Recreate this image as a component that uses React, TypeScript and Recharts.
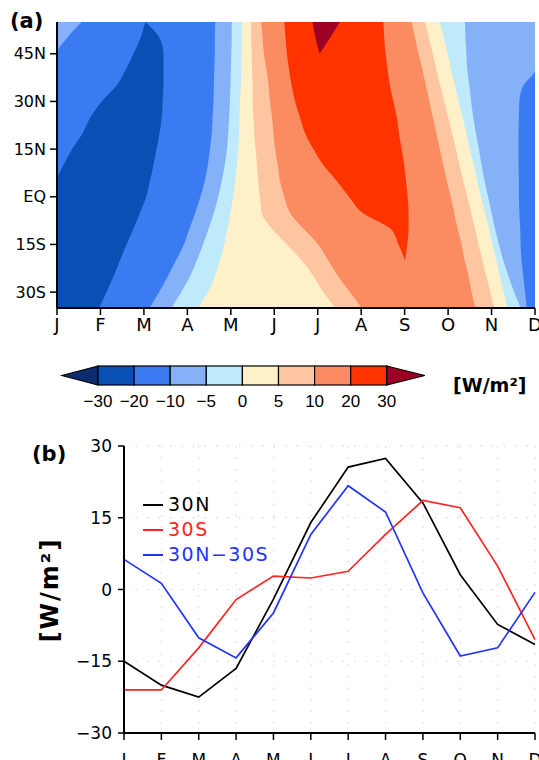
import React from "react";
import { ComposedChart, Area, XAxis, YAxis, CartesianGrid, LineChart, Line } from "recharts";

const FONT = "DejaVu Sans";
const BAR_FONT = "Liberation Sans";

const MONTHS = ["J", "F", "M", "A", "M", "J", "J", "A", "S", "O", "N", "D"];
const MONTH_TICKS = [0, 1, 2, 3, 4, 5, 6, 7, 8, 9, 10, 11];

// ---------- (a) contour field ----------
// latitude rows, south to north
const LATS = [-35, -30, -25, -20, -15, -10, -5, 0, 5, 10, 15, 20, 25, 30, 35, 40, 45, 50, 55];
const LAT_TICKS = [-30, -15, 0, 15, 30, 45];

// contour edges, as month position (0 = J, 11 = D) read at each latitude, left to right
const EDGE_01 = [0, 0, 0, 0, 0, 0, 0, 0, 0, 0, 0, 0, 0, 0, 0, 0, 0, 0.23, 0.57];
const EDGE_02 = [0, 0, 0, 0, 0, 0, 0, 0, 0, 0.15, 0.35, 0.59, 0.77, 1.03, 1.37, 1.58, 1.76, 1.92, 2.03];
const EDGE_03 = [0.97, 1.14, 1.3, 1.45, 1.6, 1.76, 1.91, 2.05, 2.14, 2.22, 2.29, 2.36, 2.41, 2.43, 2.45, 2.45, 2.45, 2.36, 2.03];
const EDGE_04 = [2.13, 2.35, 2.55, 2.74, 2.92, 3.05, 3.18, 3.3, 3.4, 3.47, 3.52, 3.56, 3.58, 3.6, 3.61, 3.62, 3.63, 3.63, 3.64];
const EDGE_05 = [2.63, 2.86, 3.06, 3.22, 3.36, 3.49, 3.61, 3.71, 3.79, 3.86, 3.91, 3.94, 3.96, 3.98, 3.99, 4.0, 4.01, 4.02, 4.02];
const EDGE_06 = [3.24, 3.47, 3.63, 3.75, 3.85, 3.92, 3.99, 4.05, 4.1, 4.14, 4.17, 4.19, 4.2, 4.21, 4.23, 4.24, 4.24, 4.25, 4.25];
const EDGE_07 = [6.4, 6.13, 5.9, 5.63, 5.29, 4.94, 4.71, 4.67, 4.63, 4.6, 4.57, 4.54, 4.52, 4.5, 4.5, 4.49, 4.48, 4.47, 4.47];
const EDGE_08 = [7.01, 6.74, 6.47, 6.24, 6.01, 5.67, 5.36, 5.23, 5.13, 5.08, 5.02, 4.98, 4.95, 4.9, 4.87, 4.82, 4.76, 4.73, 4.7];
const EDGE_13 = [9.63, 9.54, 9.47, 9.38, 9.31, 9.22, 9.14, 9.06, 8.97, 8.89, 8.81, 8.73, 8.65, 8.57, 8.49, 8.41, 8.32, 8.24, 8.16];
const EDGE_14 = [10.06, 9.97, 9.88, 9.79, 9.7, 9.62, 9.53, 9.44, 9.35, 9.26, 9.18, 9.09, 9.0, 8.91, 8.82, 8.73, 8.65, 8.56, 8.47];
const EDGE_15 = [10.37, 10.28, 10.19, 10.11, 10.02, 9.94, 9.85, 9.76, 9.67, 9.59, 9.5, 9.42, 9.33, 9.24, 9.16, 9.07, 8.99, 8.9, 8.81];
const EDGE_16 = [10.67, 10.52, 10.39, 10.27, 10.17, 10.08, 10.0, 9.92, 9.84, 9.77, 9.71, 9.64, 9.58, 9.53, 9.49, 9.44, 9.42, 9.4, 9.39];
const EDGE_17 = [10.81, 10.77, 10.73, 10.69, 10.67, 10.66, 10.64, 10.63, 10.63, 10.62, 10.62, 10.62, 10.63, 10.64, 10.73, 11, 11, 11, 11];

// closed patches: 20–30 tongue and the >30 spot (null where absent)
const RED_LEFT = [null, null, null, 8.01, 7.86, 7.67, 7.03, 6.72, 6.44, 6.13, 5.9, 5.71, 5.59, 5.48, 5.4, 5.34, 5.29, 5.26, 5.23];
const RED_RIGHT = [null, null, null, 8.01, 8.06, 8.09, 8.09, 8.07, 8.03, 7.99, 7.93, 7.87, 7.82, 7.74, 7.66, 7.61, 7.56, 7.53, 7.51];
const PEAK_LEFT = [null, null, null, null, null, null, null, null, null, null, null, null, null, null, null, null, 6.04, 5.95, 5.88];
const PEAK_RIGHT = [null, null, null, null, null, null, null, null, null, null, null, null, null, null, null, null, 6.04, 6.28, 6.51];

// colour levels of the shading
const LEVEL_LABELS = ["\u221230", "\u221220", "\u221210", "\u22125", "0", "5", "10", "20", "30"];
const SHADE_UNDER = "#0b2c6e";
const SHADES = ["#0a4fb4", "#3b7bf2", "#84b1f7", "#bfeafc", "#fef0c9", "#fdc6a0", "#fb8c62", "#ff3300"];
const SHADE_OVER = "#9c0024";
const [C_M30, C_M20, C_M10, C_M5, C_0, C_5, C_10, C_20] = SHADES;

// band lying left of each edge (drawn right-to-left so each covers the next one's start)
const BANDS = [
  { key: "e01", edge: EDGE_01, color: C_M10 },
  { key: "e02", edge: EDGE_02, color: C_M20 },
  { key: "e03", edge: EDGE_03, color: C_M30 },
  { key: "e04", edge: EDGE_04, color: C_M20 },
  { key: "e05", edge: EDGE_05, color: C_M10 },
  { key: "e06", edge: EDGE_06, color: C_M5 },
  { key: "e07", edge: EDGE_07, color: C_0 },
  { key: "e08", edge: EDGE_08, color: C_5 },
  { key: "e13", edge: EDGE_13, color: C_10 },
  { key: "e14", edge: EDGE_14, color: C_5 },
  { key: "e15", edge: EDGE_15, color: C_0 },
  { key: "e16", edge: EDGE_16, color: C_M5 },
  { key: "e17", edge: EDGE_17, color: C_M10 },
];
const LAST_BAND_COLOR = C_M20;

const FIELD_ROWS = LATS.map((lat, i) => {
  const row: Record<string, any> = { lat };
  BANDS.forEach((b) => (row[b.key] = b.edge[i]));
  row.red = RED_LEFT[i] == null ? null : [RED_LEFT[i], RED_RIGHT[i]];
  row.peak = PEAK_LEFT[i] == null ? null : [PEAK_LEFT[i], PEAK_RIGHT[i]];
  return row;
});

// ---------- (b) zonal mean lines ----------
const N30 = [-15, -20, -22.5, -16.5, -2, 14, 25.6, 27.4, 18.1, 3.1, -7.3, -11.5];
const S30 = [-21, -21, -12.2, -2.1, 2.8, 2.4, 3.8, 11.5, 18.6, 17.1, 4.9, -10.5];
const N30_S30 = [6.3, 1.3, -10.1, -14.3, -4.9, 11.5, 21.7, 16.2, -0.7, -13.9, -12.2, -0.6];
const VALUE_TICKS = [-30, -15, 0, 15, 30];

const SERIES = [
  { key: "n30", label: "30N", color: "#000000" },
  { key: "s30", label: "30S", color: "#ff2424" },
  { key: "diff", label: "30N\u221230S", color: "#2233ff" },
];

const LINE_ROWS = MONTH_TICKS.map((m) => ({ m, n30: N30[m], s30: S30[m], diff: N30_S30[m] }));

const latLabel = (v: number) => (v === 0 ? "EQ" : v > 0 ? `${v}N` : `${-v}S`);
const numLabel = (v: number) => (v < 0 ? `\u2212${-v}` : `${v}`);
const monthLabel = (v: number) => MONTHS[v] ?? "";

const frame = { stroke: "#000", strokeWidth: 2 };
const tickLine = { stroke: "#000", strokeWidth: 1.5 };

const PanelA = () => (
  <div style={{ position: "absolute", left: 0, top: 0 }}>
    <ComposedChart
      width={539}
      height={340}
      data={FIELD_ROWS}
      layout="vertical"
      margin={{ top: 22, right: 4, bottom: 0, left: 0 }}
    >
      <CartesianGrid horizontal={false} vertical={false} fill={LAST_BAND_COLOR} fillOpacity={1} stroke="none" />
      {[...BANDS].reverse().map((b) => (
        <Area
          key={b.key}
          type="monotone"
          dataKey={b.key}
          stroke="none"
          fill={b.color}
          fillOpacity={1}
          dot={false}
          activeDot={false}
          isAnimationActive={false}
        />
      ))}
      <Area type="monotone" dataKey="red" stroke="none" fill={C_20} fillOpacity={1} dot={false} activeDot={false} isAnimationActive={false} />
      <Area type="monotone" dataKey="peak" stroke="none" fill={SHADE_OVER} fillOpacity={1} dot={false} activeDot={false} isAnimationActive={false} />
      <XAxis
        type="number"
        domain={[0, 11]}
        ticks={MONTH_TICKS}
        interval={0}
        allowDataOverflow
        tickFormatter={monthLabel}
        height={32}
        tickSize={7}
        tickMargin={3}
        axisLine={frame}
        tickLine={tickLine}
        tick={{ fill: "#000", fontSize: 18, fontFamily: FONT }}
      />
      <XAxis xAxisId="top" orientation="top" type="number" domain={[0, 11]} height={0} tick={false} tickLine={false} axisLine={frame} />
      <YAxis
        type="number"
        dataKey="lat"
        domain={[-35, 55]}
        reversed
        ticks={LAT_TICKS}
        interval={0}
        allowDataOverflow
        tickFormatter={latLabel}
        width={57}
        tickSize={7}
        tickMargin={4}
        axisLine={frame}
        tickLine={tickLine}
        tick={{ fill: "#000", fontSize: 16, fontFamily: FONT }}
      />
      <YAxis yAxisId="right" orientation="right" type="number" domain={[-35, 55]} reversed width={0} tick={false} tickLine={false} axisLine={frame} />
    </ComposedChart>
    <div style={{ position: "absolute", left: 10, top: 9, fontFamily: FONT, fontWeight: "bold", fontSize: 21 }}>(a)</div>
  </div>
);

const ColorBar = () => {
  const x0 = 98;
  const w = 36.1;
  const top = 16;
  const h = 19;
  const mid = top + h / 2;
  const x1 = x0 + w * SHADES.length;
  return (
    <svg width={539} height={70} style={{ position: "absolute", left: 0, top: 350 }}>
      <polygon points={`${x0},${top} ${x0 - 36},${mid} ${x0},${top + h}`} fill={SHADE_UNDER} stroke="#000" strokeWidth={1.2} />
      {SHADES.map((c, i) => (
        <rect key={c} x={x0 + i * w} y={top} width={w} height={h} fill={c} stroke="#000" strokeWidth={1.2} />
      ))}
      <polygon points={`${x1},${top} ${x1 + 38},${mid} ${x1},${top + h}`} fill={SHADE_OVER} stroke="#000" strokeWidth={1.2} />
      {LEVEL_LABELS.map((t, i) => (
        <text key={t} x={x0 + i * w} y={57} textAnchor="middle" fontFamily={BAR_FONT} fontSize={17} fill="#000">
          {t}
        </text>
      ))}
      <text x={453} y={42} fontFamily={FONT} fontSize={19} fontWeight="bold" fill="#000">
        [W/m²]
      </text>
    </svg>
  );
};

const PanelB = () => (
  <div style={{ position: "absolute", left: 0, top: 420 }}>
    <LineChart width={539} height={340} data={LINE_ROWS} margin={{ top: 26, right: 4, bottom: 0, left: 0 }}>
      <CartesianGrid stroke="#cfcfcf" strokeDasharray="1.5 10" />
      {SERIES.map((s) => (
        <Line
          key={s.key}
          type="linear"
          dataKey={s.key}
          stroke={s.color}
          strokeWidth={1.7}
          dot={false}
          activeDot={false}
          isAnimationActive={false}
        />
      ))}
      <XAxis
        dataKey="m"
        type="number"
        domain={[0, 11]}
        ticks={MONTH_TICKS}
        interval={0}
        tickFormatter={monthLabel}
        height={27}
        tickSize={7}
        tickMargin={14}
        axisLine={frame}
        tickLine={tickLine}
        tick={{ fill: "#000", fontSize: 17, fontFamily: FONT }}
      />
      <XAxis xAxisId="top" orientation="top" type="number" domain={[0, 11]} height={0} tick={false} tickLine={false} axisLine={frame} />
      <YAxis
        type="number"
        domain={[-30, 30]}
        ticks={VALUE_TICKS}
        interval={0}
        tickFormatter={numLabel}
        width={124}
        tickSize={6}
        tickMargin={6}
        axisLine={frame}
        tickLine={tickLine}
        tick={{ fill: "#000", fontSize: 17, fontFamily: FONT }}
      />
      <YAxis yAxisId="right" orientation="right" type="number" domain={[-30, 30]} width={0} tick={false} tickLine={false} axisLine={frame} />
    </LineChart>
    <div style={{ position: "absolute", left: 32, top: 22, fontFamily: FONT, fontWeight: "bold", fontSize: 21 }}>(b)</div>
    <svg width={80} height={200} style={{ position: "absolute", left: 10, top: 70 }}>
      <text
        x={40}
        y={100}
        transform="rotate(-90 40 100)"
        textAnchor="middle"
        dominantBaseline="central"
        fontFamily={FONT}
        fontSize={24}
        fontWeight="bold"
        letterSpacing={2}
        fill="#000"
      >
        [W/m²]
      </text>
    </svg>
    <div style={{ position: "absolute", left: 143, top: 72, fontFamily: FONT, fontSize: 19, lineHeight: "25px", letterSpacing: 1.5 }}>
      {SERIES.map((s) => (
        <div key={s.key} style={{ display: "flex", alignItems: "center", color: s.color }}>
          <span style={{ display: "inline-block", width: 20, borderTop: `2px solid ${s.color}`, marginRight: 5 }} />
          {s.label}
        </div>
      ))}
    </div>
  </div>
);

export default function App() {
  return (
    <div style={{ position: "absolute", left: 0, top: 0, width: 539, height: 760, background: "#fff", overflow: "hidden" }}>
      <PanelA />
      <ColorBar />
      <PanelB />
    </div>
  );
}
